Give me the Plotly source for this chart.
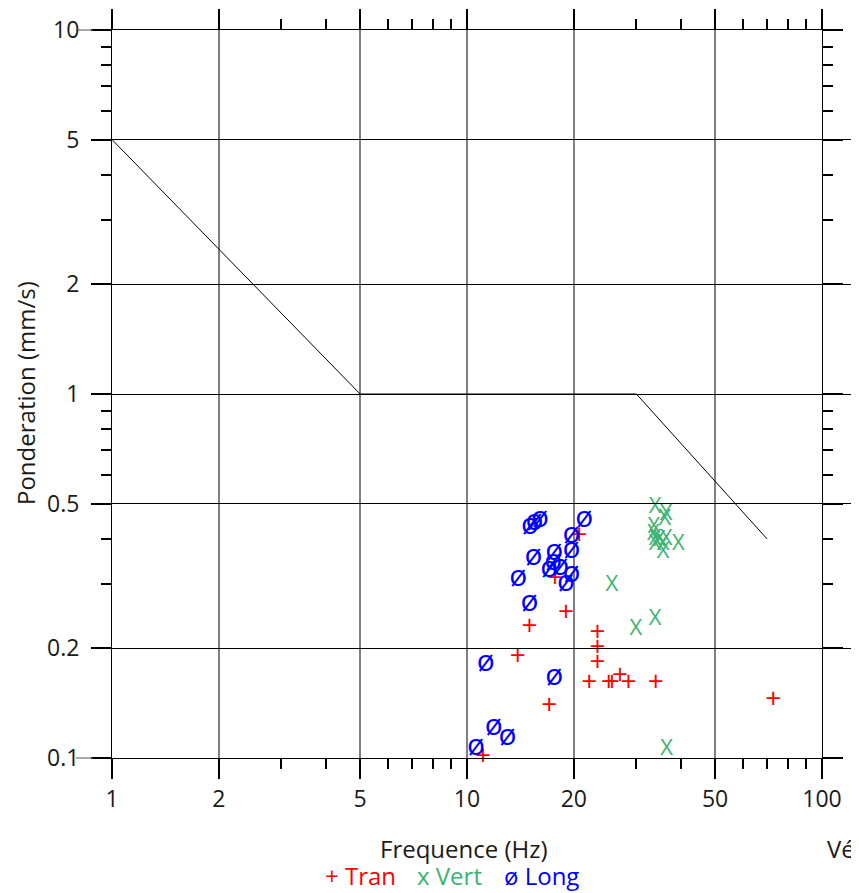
import plotly.graph_objects as go

# ---- data ----
tran_f = [20.7, 17.7, 19.0, 15.0, 23.3, 23.3, 13.9, 23.3, 27.0, 22.1, 25.1, 25.6, 28.5, 34.0, 17.05, 11.1, 72.9]
tran_v = [0.405, 0.308, 0.249, 0.228, 0.2195, 0.1995, 0.1888, 0.181, 0.1667, 0.1594, 0.1594, 0.1594, 0.1594, 0.1594, 0.1379, 0.1001, 0.1438]

vert_f = [33.9, 36.4, 36.1, 33.6, 33.5, 33.9, 34.8, 36.4, 39.4, 35.7, 33.9, 35.7, 25.6, 33.9, 29.9, 36.5]
vert_v = [0.489, 0.4675, 0.453, 0.430, 0.412, 0.399, 0.395, 0.399, 0.385, 0.386, 0.386, 0.367, 0.298, 0.2405, 0.226, 0.1056]
# Vert point lying beyond the 100 Hz edge of the frame
vert_out_f = [130.0]
vert_out_v = [0.1956]

long_f = [21.4, 16.05, 15.5, 15.05, 19.7, 17.6, 19.7, 15.4, 17.5, 18.3, 17.05, 19.7, 19.0, 13.95, 15.0, 11.3, 17.6, 11.9, 13.0, 10.6]
long_v = [0.4535, 0.4535, 0.4445, 0.433, 0.4085, 0.3675, 0.3715, 0.3565, 0.3445, 0.334, 0.329, 0.319, 0.302, 0.312, 0.2665, 0.182, 0.1665, 0.1213, 0.1139, 0.107]

limit_f = [1, 5, 30, 70]
limit_v = [5, 1, 1, 0.4]

x_ticks = [1, 2, 5, 10, 20, 50, 100]
x_ticktext = ["1", "2", "5", "10", "20", "50", "100"]
x_minor = [3, 4, 6, 7, 8, 9, 30, 40, 60, 70, 80, 90]
y_ticks = [0.1, 0.2, 0.5, 1, 2, 5, 10]
y_ticktext = ["0.1", "0.2", "0.5", "1", "2", "5", "10"]
y_minor = [0.3, 0.4, 0.6, 0.7, 0.8, 0.9, 3, 4, 6, 7, 8, 9]

FONT = "Open Sans"
RED = "#ff0000"
GREEN = "#3cb371"
BLUE = "#0000ff"
TXT = "#1a1a1a"

# ---- geometry ----
OX, OY = 8, 8                               # page offset of the figure in the window
W, H = 859, 893
PL, PR, PT, PB = 112, 822, 30, 758          # target plot frame in window pixels
L, T = PL - OX, PT - OY
R = 0
pw, ph = PR - PL, PB - PT
paper_w = W - L - R
B = H - T - ph
xdom_end = pw / paper_w                     # main x axis domain end (frame at 100 Hz)
x2_range_end = 2.0 / xdom_end               # same log scale, extended over the full paper

def px(x):
    return (x - PL) / paper_w

def py(y):
    return (PB - y) / ph

fig = go.Figure()

fig.add_trace(go.Scatter(x=limit_f, y=limit_v, mode="lines",
                         line=dict(color="black", width=1), showlegend=False,
                         hoverinfo="skip"))

fig.add_trace(go.Scatter(x=tran_f, y=tran_v, mode="text", text=["+"] * len(tran_f),
                         textfont=dict(family=FONT, size=28, color=RED),
                         textposition="middle center", showlegend=False, cliponaxis=False))
fig.add_trace(go.Scatter(x=vert_f, y=vert_v, mode="text", text=["X"] * len(vert_f),
                         textfont=dict(family=FONT, size=22, color=GREEN),
                         textposition="middle center", showlegend=False, cliponaxis=False))
fig.add_trace(go.Scatter(x=vert_out_f, y=vert_out_v, mode="text", text=["X"] * len(vert_out_f),
                         textfont=dict(family=FONT, size=22, color=GREEN),
                         textposition="middle center", showlegend=False, cliponaxis=False,
                         xaxis="x2", yaxis="y"))
fig.add_trace(go.Scatter(x=long_f, y=long_v, mode="text", text=["ø"] * len(long_f),
                         textfont=dict(family=FONT, size=30, color=BLUE),
                         textposition="middle center", showlegend=False, cliponaxis=False))

axis_common = dict(
    showline=True, linecolor="black", linewidth=1, mirror="ticks",
    ticks="outside", ticklen=20, tickwidth=2, tickcolor="black",
    tickfont=dict(family=FONT, size=23, color=TXT),
    showgrid=True, zeroline=False, automargin=False,
)

fig.update_layout(
    xaxis=dict(type="log", range=[0, 2], domain=[0, xdom_end], anchor="y",
               tickmode="array", tickvals=x_ticks, ticktext=x_ticktext,
               gridcolor="#808080", gridwidth=1.5, ticklabelstandoff=0,
               minor=dict(tickmode="array", tickvals=x_minor, ticks="outside",
                          ticklen=10, tickwidth=2, tickcolor="black", showgrid=False),
               **axis_common),
    xaxis2=dict(type="log", range=[0, x2_range_end], domain=[0, 1], anchor="y",
                visible=False, showgrid=False, zeroline=False),
    yaxis=dict(type="log", range=[-1, 1], anchor="x",
               tickmode="array", tickvals=y_ticks, ticktext=y_ticktext,
               gridcolor="black", gridwidth=1, ticklabelstandoff=7,
               minor=dict(tickmode="array", tickvals=y_minor, ticks="outside",
                          ticklen=10, tickwidth=2, tickcolor="black", showgrid=False),
               **axis_common),
)

annotations = [
    dict(text="Ponderation (mm/s)", x=px(25), y=py(393), textangle=-90,
         font=dict(family=FONT, size=24, color=TXT)),
    dict(text="Frequence (Hz)", x=px(464), y=py(848),
         font=dict(family=FONT, size=24, color=TXT)),
    dict(text="Vérification", x=px(825), y=py(848), xanchor="left",
         font=dict(family=FONT, size=24, color=TXT)),
    dict(text="+ Tran", x=px(323), y=py(875), xanchor="left",
         font=dict(family=FONT, size=24, color=RED)),
    dict(text="x Vert", x=px(415), y=py(875), xanchor="left",
         font=dict(family=FONT, size=24, color=GREEN)),
    dict(text="ø Long", x=px(502), y=py(875), xanchor="left",
         font=dict(family=FONT, size=24, color=BLUE)),
]
for a in annotations:
    a.update(xref="paper", yref="paper", showarrow=False)
    a.setdefault("xanchor", "center")
    a["yanchor"] = "middle"

shapes = [
    dict(type="line", xref="paper", yref="paper", x0=px(76), x1=px(93), y0=1, y1=1,
         line=dict(color="#555", width=1)),
    dict(type="line", xref="paper", yref="paper", x0=px(76), x1=px(93), y0=0, y1=0,
         line=dict(color="#555", width=1)),
]

fig.update_layout(
    width=W, height=H,
    margin=dict(l=L, r=R, t=T, b=B, autoexpand=False),
    paper_bgcolor="white", plot_bgcolor="rgba(0,0,0,0)",
    annotations=annotations, shapes=shapes,
    showlegend=False,
)

fig.write_html("out.html")
